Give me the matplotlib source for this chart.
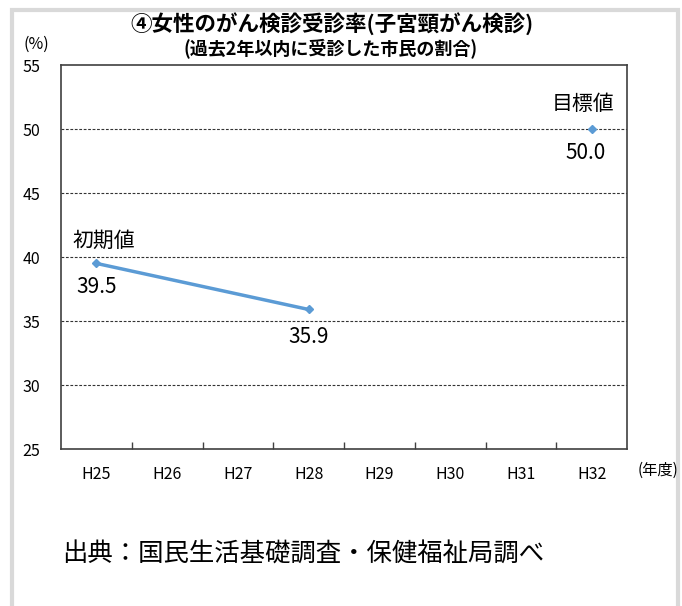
import numpy as np
import matplotlib
matplotlib.use('Agg')
import matplotlib.pyplot as plt
from matplotlib.patches import Rectangle

plt.rcParams['font.family'] = ['Noto Sans CJK JP', 'DejaVu Sans']

years = ['H25', 'H26', 'H27', 'H28', 'H29', 'H30', 'H31', 'H32']
actual_years = ['H25', 'H28']
actual_vals = [39.5, 35.9]
target_year = 'H32'
target_val = 50.0

title = '④女性のがん検診受診率(子宮頸がん検診)'
subtitle = '(過去2年以内に受診した市民の割合)'
source = '出典：国民生活基礎調査・保健福祉局調べ'

line_color = '#5B9BD5'

fig = plt.figure(figsize=(6.82, 6.06), dpi=100)
# light gray frame around the whole picture
fig.patches.append(Rectangle((11.5/682, -0.1), (677.5-11.5)/682, 1.1 - 10/606,
                             transform=fig.transFigure, fill=False,
                             edgecolor='#d9d9d9', lw=3))

ax = fig.add_axes([61/682, 1-449/606, 566/682, 384/606])

xa = [years.index(y) for y in actual_years]
xt = years.index(target_year)
ax.plot(xa, actual_vals, color=line_color, lw=2.5, marker='D', ms=4.5, zorder=3)
ax.plot([xt], [target_val], color=line_color, marker='D', ms=4.5, ls='none', zorder=3)

ax.set_xlim(-0.5, len(years) - 0.5)
ax.set_ylim(25, 55)
ax.set_yticks(np.arange(25, 56, 5))
ax.set_xticks(np.arange(0.5, len(years) - 1, 1))
ax.set_xticklabels([])
ax.set_xticks(np.arange(len(years)), minor=True)
ax.set_xticklabels(years, minor=True)
ax.tick_params(axis='x', which='major', direction='in', length=5, width=1, color='#404040')
ax.tick_params(axis='x', which='minor', length=0, pad=12, labelsize=11.5)
ax.tick_params(axis='y', length=0, pad=15, labelsize=11.5)

for v in [30, 35, 40, 45, 50]:
    ax.axhline(v, color='#333333', lw=0.8, ls=(0, (2.5, 1.5)), zorder=1)

for s in ax.spines.values():
    s.set_color('#404040')
    s.set_linewidth(1.2)

# data labels
ax.annotate('初期値', (xa[0], actual_vals[0]), xytext=(-24*0.72, 16), textcoords='offset points',
            ha='left', va='center', fontsize=15)
ax.annotate(f'{actual_vals[0]:.1f}', (xa[0], actual_vals[0]), xytext=(0, -17), textcoords='offset points',
            ha='center', va='center', fontsize=15)
ax.annotate(f'{actual_vals[1]:.1f}', (xa[1], actual_vals[1]), xytext=(0, -20), textcoords='offset points',
            ha='center', va='center', fontsize=15)
ax.annotate('目標値', (xt, target_val), xytext=(-6, 18), textcoords='offset points',
            ha='center', va='center', fontsize=15)
ax.annotate(f'{target_val:.1f}', (xt, target_val), xytext=(-4, -17), textcoords='offset points',
            ha='center', va='center', fontsize=15)

fig.text(332/682, 1-24/606, title, ha='center', va='center', fontsize=15.5, fontweight='bold')
fig.text(331/682, 1-49/606, subtitle, ha='center', va='center', fontsize=13, fontweight='bold')
fig.text(36/682, 1-44/606, '(%)', ha='center', va='center', fontsize=11.5)
fig.text(638/682, 1-470/606, '(年度)', ha='left', va='center', fontsize=11)
fig.text(62/682, 1-555/606, source, ha='left', va='center', fontsize=18.3)

fig.savefig('out.png', dpi=100)
